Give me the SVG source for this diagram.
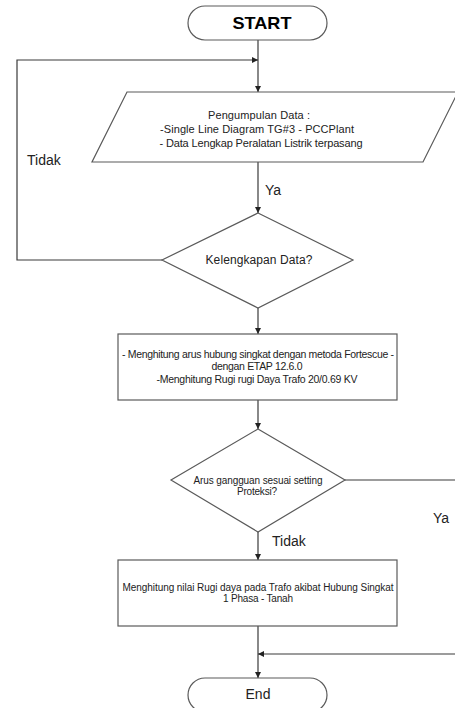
<svg xmlns="http://www.w3.org/2000/svg" width="455" height="708" viewBox="0 0 455 708">
<style>
.shape{fill:#fff;stroke:#5a5a5a;stroke-width:1.2}
.conn{fill:none;stroke:#3a3a3a;stroke-width:1.2}
text{font-family:"Liberation Sans",Arial,sans-serif;fill:#222;text-anchor:middle}
.lbl{font-size:14px;text-anchor:start}
</style>
<defs>
<marker id="arr" viewBox="0 0 10 10" refX="10" refY="5" markerWidth="6" markerHeight="6" markerUnits="userSpaceOnUse" orient="auto">
<path d="M0,0 L10,5 L0,10 z" fill="#222"/>
</marker>
</defs>
<rect width="455" height="708" fill="#fff"/>
<g id="connectors">
<path class="conn" d="M258,40 V92" marker-end="url(#arr)"/>
<path class="conn" d="M162,260 H17 V60 H258" marker-end="url(#arr)"/>
<path class="conn" d="M258,162 V213" marker-end="url(#arr)"/>
<path class="conn" d="M258,308 V334" marker-end="url(#arr)"/>
<path class="conn" d="M258,400 V429" marker-end="url(#arr)"/>
<path class="conn" d="M258,532 V560" marker-end="url(#arr)"/>
<path class="conn" d="M258,626 V678" marker-end="url(#arr)"/>
<path class="conn" d="M345,480 H462 V654 H258" marker-end="url(#arr)"/>
</g>
<g id="start">
<rect class="shape" x="188" y="6" width="139" height="34" rx="17" ry="17"/>
<text x="262" y="29" style="font-size:17px;font-weight:bold;fill:#000" textLength="59" lengthAdjust="spacingAndGlyphs">START</text>
</g>
<g id="input">
<polygon class="shape" points="127,92 458,92 423,162 92,162"/>
<text x="259" y="119" style="font-size:11px" textLength="102">Pengumpulan Data :</text>
<text x="257" y="133" style="font-size:11px" textLength="194">-Single Line Diagram TG#3 - PCCPlant</text>
<text x="261" y="147" style="font-size:11px" textLength="203">- Data Lengkap Peralatan Listrik terpasang</text>
</g>
<g id="decision1">
<polygon class="shape" points="258,213 353,260 258,308 162,260"/>
<text x="259" y="264" style="font-size:12px" textLength="107">Kelengkapan Data?</text>
</g>
<g id="process1">
<rect class="shape" x="118" y="334" width="279" height="66"/>
<text x="258" y="358" style="font-size:10.5px" textLength="272">- Menghitung arus hubung singkat dengan metoda Fortescue -</text>
<text x="257" y="370" style="font-size:10.5px" textLength="91">dengan ETAP 12.6.0</text>
<text x="257" y="383" style="font-size:10.5px" textLength="201">-Menghitung Rugi rugi Daya Trafo 20/0.69 KV</text>
</g>
<g id="decision2">
<polygon class="shape" points="258,429 345,480 258,532 171,480"/>
<text x="258" y="484" style="font-size:10px" textLength="129">Arus gangguan sesuai setting</text>
<text x="257" y="495" style="font-size:10px" textLength="40">Proteksi?</text>
</g>
<g id="process2">
<rect class="shape" x="118" y="560" width="279" height="66"/>
<text x="258" y="591" style="font-size:10px" textLength="271">Menghitung nilai Rugi daya pada Trafo akibat Hubung Singkat</text>
<text x="258" y="602" style="font-size:10px" textLength="70">1 Phasa - Tanah</text>
</g>
<g id="end">
<rect class="shape" x="188" y="678" width="139" height="34" rx="17" ry="17"/>
<text x="258" y="699" style="font-size:14px">End</text>
</g>
<g id="labels">
<text class="lbl" x="27" y="165">Tidak</text>
<text class="lbl" x="265" y="195">Ya</text>
<text class="lbl" x="433" y="523">Ya</text>
<text class="lbl" x="272" y="546">Tidak</text>
</g>
</svg>
